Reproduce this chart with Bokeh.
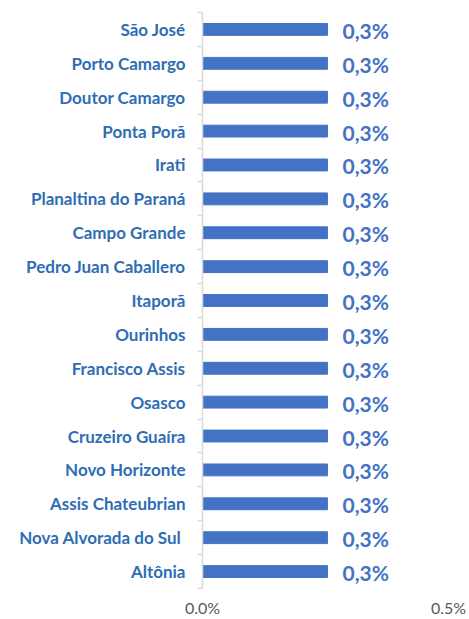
from bokeh.plotting import figure
from bokeh.models import Range1d, FixedTicker, NumeralTickFormatter, ColumnDataSource
from bokeh.core.properties import value
from bokeh.embed import file_html
from bokeh.resources import INLINE

categories = ["São José", "Porto Camargo", "Doutor Camargo", "Ponta Porã", "Irati",
              "Planaltina do Paraná", "Campo Grande", "Pedro Juan Caballero", "Itaporã",
              "Ourinhos", "Francisco Assis", "Osasco", "Cruzeiro Guaíra", "Novo Horizonte",
              "Assis Chateubrian", "Nova Alvorada do  Sul", "Altônia"]
values = [0.00254] * 17
labels = ["0,3%"] * 17
x_ticks = [0.0, 0.005]

n = len(categories)
idx = list(range(n))

src = ColumnDataSource(dict(y=idx, v=values, lab=labels))

p = figure(width=469, height=619, output_backend="svg", toolbar_location=None,
           x_range=Range1d(0, 0.005), y_range=Range1d(n - 0.5, -0.5),
           min_border_left=202, min_border_right=21, min_border_top=12, min_border_bottom=30)
p.outline_line_color = None
p.background_fill_color = "white"

p.hbar(y="y", left=0, right="v", height=0.35, color="#4472C4", source=src)
p.text(x="v", y="y", text="lab", source=src, x_offset=15, y_offset=1,
       text_font=value("Lato"), text_font_style="bold", text_font_size="21px",
       text_color="#4472C4", text_baseline="middle", text_align="left")

yax = p.yaxis[0]
yax.ticker = FixedTicker(ticks=idx, minor_ticks=[i - 0.5 for i in range(n + 1)])
yax.major_label_overrides = {i: c for i, c in enumerate(categories)}
yax.major_label_text_font = "Lato"
yax.major_label_text_font_style = "bold"
yax.major_label_text_font_size = "17px"
yax.major_label_text_color = "#2E6DB4"
yax.major_tick_line_color = None
yax.major_tick_out = 0
yax.major_tick_in = 0
yax.minor_tick_line_color = "#D9D9D9"
yax.minor_tick_line_width = 1.5
yax.minor_tick_out = 5
yax.minor_tick_in = 0
yax.axis_line_color = "#D9D9D9"
yax.axis_line_width = 1.5
yax.major_label_standoff = 12

xax = p.xaxis[0]
xax.ticker = FixedTicker(ticks=x_ticks)
xax.formatter = NumeralTickFormatter(format="0.0%")
xax.axis_line_color = None
xax.major_tick_line_color = None
xax.minor_tick_line_color = None
xax.major_tick_out = 0
xax.major_tick_in = 0
xax.major_label_text_font = "Lato"
xax.major_label_text_font_size = "16px"
xax.major_label_text_color = "#595959"
xax.major_label_standoff = 9

p.ygrid.grid_line_color = None
p.xgrid.ticker = FixedTicker(ticks=x_ticks)
p.xgrid.grid_line_color = "#D9D9D9"
p.xgrid.grid_line_width = 1.5

open("out.html", "w").write(file_html(p, INLINE))
